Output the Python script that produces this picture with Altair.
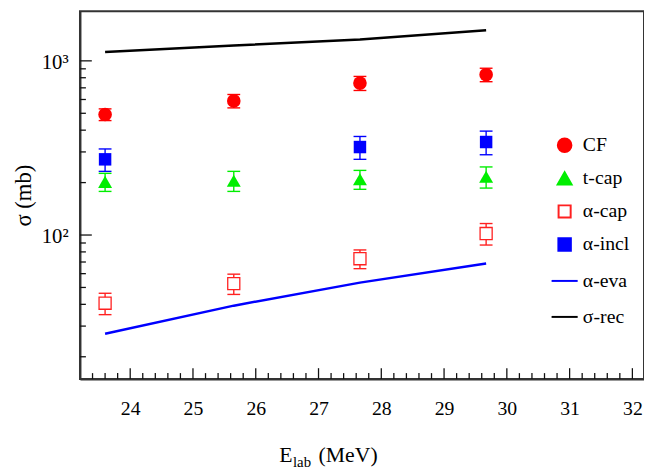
import altair as alt
import pandas as pd

# ---------------- data ----------------
energy = [23.6, 25.65, 27.66, 29.67]
cf = [492, 589, 745, 833]
cf_err = [38, 52, 69, 74]
tcap = [202, 205, 209, 216]
tcap_err = [24, 27, 26, 30]
acap = [40.6, 52.6, 73.1, 102]
acap_err = [5.7, 7.0, 9.0, 14.4]
aincl_energy = [23.6, 27.66, 29.67]
aincl = [272, 320, 342]
aincl_err = [40, 48, 53]
aeva = [27.1, 39.3, 53.3, 68.6]
srec = [1125, 1225, 1325, 1497]

series = ["CF", "t-cap", "α-cap", "α-incl", "α-eva", "σ-rec"]
shapes = ["circle", "triangle-up", "square", "square", "stroke", "stroke"]
fills = ["#ff0000", "#00ee00", "#ffffff", "#0000ff", "transparent", "transparent"]
strokes = ["#ff0000", "#00ee00", "#ff2020", "#0000ff", "#0000ff", "#000000"]
sizes = [190, 200, 150, 160, 700, 700]

x_major = [24, 25, 26, 27, 28, 29, 30, 31, 32]
x_minor = [round(23.4 + 0.2 * i, 1) for i in range(44) if abs((23.4 + 0.2 * i) - round(23.4 + 0.2 * i)) > 0.05]
y_major = [100, 1000]
y_minor = [20, 30, 40, 50, 60, 70, 80, 90, 200, 300, 400, 500, 600, 700, 800, 900]

X_MIN, X_MAX = 23.2, 32.185
Y_MIN, Y_MAX = 14.9, 1927

W, H = 572, 373
FONT = "Liberation Serif, DejaVu Serif, serif"

# ---------------- tables ----------------
pts = []
for e, v in zip(energy, cf):
    pts.append({"E": e, "v": v, "s": "CF"})
for e, v in zip(energy, tcap):
    pts.append({"E": e, "v": v, "s": "t-cap"})
for e, v in zip(energy, acap):
    pts.append({"E": e, "v": v, "s": "α-cap"})
for e, v in zip(aincl_energy, aincl):
    pts.append({"E": e, "v": v, "s": "α-incl"})
pts = pd.DataFrame(pts)

lines = []
for e, v in zip(energy, aeva):
    lines.append({"E": e, "v": v, "s": "α-eva"})
for e, v in zip(energy, srec):
    lines.append({"E": e, "v": v, "s": "σ-rec"})
lines = pd.DataFrame(lines)

errs = []
for col, ens, vals, es in [("#ff0000", energy, cf, cf_err), ("#00ee00", energy, tcap, tcap_err),
                           ("#ff2020", energy, acap, acap_err), ("#0000ff", aincl_energy, aincl, aincl_err)]:
    for e, v, d in zip(ens, vals, es):
        errs.append({"E": e, "lo": v - d, "hi": v + d, "col": col})
errs = pd.DataFrame(errs)

xs = alt.Scale(domain=[X_MIN, X_MAX], nice=False, zero=False)
ys = alt.Scale(type="log", domain=[Y_MIN, Y_MAX], nice=False)

xaxis = alt.Axis(values=x_major, ticks=False, grid=False, domain=True, domainColor="#333",
                 domainWidth=2, labelFont=FONT, labelFontSize=20, labelColor="black",
                 labelPadding=20, title=None)
yaxis = alt.Axis(values=y_major, ticks=False, grid=False, domain=True, domainColor="#333",
                 domainWidth=2, labelFont=FONT, labelFontSize=21, labelColor="black",
                 labelPadding=12, labelBaseline="middle", labelOffset=2,
                 labelExpr="datum.value == 100 ? '10²' : '10³'",
                 title="σ (mb)", titleFont=FONT, titleFontSize=23, titleFontWeight="normal",
                 titleColor="black", titlePadding=6)

X = alt.X("E:Q", scale=xs, axis=xaxis)
Y = alt.Y("v:Q", scale=ys, axis=yaxis)

leg = alt.Legend(orient="none", legendX=477, legendY=126, title=None, labelFont=FONT,
                 labelFontSize=20, labelColor="black", labelOffset=4, rowPadding=11.5,
                 symbolOpacity=1, symbolStrokeWidth=2)

S = dict(
    shape=alt.Shape("s:N", scale=alt.Scale(domain=series, range=shapes), legend=leg),
    fill=alt.Fill("s:N", scale=alt.Scale(domain=series, range=fills), legend=leg),
    stroke=alt.Stroke("s:N", scale=alt.Scale(domain=series, range=strokes), legend=leg),
    size=alt.Size("s:N", scale=alt.Scale(type="ordinal", domain=series, range=sizes), legend=leg),
)

line_layer = alt.Chart(lines).mark_line(strokeWidth=2.5).encode(
    x=X, y=Y, stroke=S["stroke"], detail="s:N")

err_rule = alt.Chart(errs).mark_rule(strokeWidth=1.4).encode(
    x=X, y=alt.Y("lo:Q", scale=ys, axis=yaxis), y2="hi:Q",
    color=alt.Color("col:N", scale=None))
cap_lo = alt.Chart(errs).mark_tick(orient="horizontal", size=13, thickness=1.4, opacity=1).encode(
    x=X, y=alt.Y("lo:Q", scale=ys, axis=yaxis), color=alt.Color("col:N", scale=None))
cap_hi = alt.Chart(errs).mark_tick(orient="horizontal", size=13, thickness=1.4, opacity=1).encode(
    x=X, y=alt.Y("hi:Q", scale=ys, axis=yaxis), color=alt.Color("col:N", scale=None))

filled_pts = alt.Chart(pts).transform_filter("datum.s != 'α-cap'").mark_point(
    opacity=1, strokeWidth=0).encode(
    x=X, y=Y, shape=S["shape"], fill=S["fill"], stroke=S["stroke"], size=S["size"])
open_pts = alt.Chart(pts).transform_filter("datum.s == 'α-cap'").mark_point(
    opacity=1, strokeWidth=1.3).encode(
    x=X, y=Y, shape=S["shape"], fill=S["fill"], stroke=S["stroke"], size=S["size"])

# inward axis ticks: tick marks sitting on the frame (left edge / bottom edge)
ytm_df = pd.DataFrame({"v": y_major, "E": X_MIN})
ytn_df = pd.DataFrame({"v": y_minor, "E": X_MIN})
xtm_df = pd.DataFrame({"E": x_major, "v": Y_MIN})
xtn_df = pd.DataFrame({"E": x_minor, "v": Y_MIN})
ytm = alt.Chart(ytm_df).mark_tick(orient="horizontal", size=12, thickness=1.3,
                                  color="#111", opacity=1, xOffset=6).encode(x=X, y=Y)
ytn = alt.Chart(ytn_df).mark_tick(orient="horizontal", size=6, thickness=1.3,
                                  color="#111", opacity=1, xOffset=3).encode(x=X, y=Y)
xtm = alt.Chart(xtm_df).mark_tick(orient="vertical", size=11, thickness=1.3,
                                  color="#111", opacity=1, yOffset=-5.5).encode(x=X, y=Y)
xtn = alt.Chart(xtn_df).mark_tick(orient="vertical", size=6, thickness=1.3,
                                  color="#111", opacity=1, yOffset=-3).encode(x=X, y=Y)

# x title with subscript
t1 = alt.Chart(pd.DataFrame({"t": ["E"]})).mark_text(
    font=FONT, fontSize=22, align="left", baseline="alphabetic", color="black").encode(
    text="t:N", x=alt.value(202), y=alt.value(457))
t2 = alt.Chart(pd.DataFrame({"t": ["lab"]})).mark_text(
    font=FONT, fontSize=15, align="left", baseline="alphabetic", color="black").encode(
    text="t:N", x=alt.value(216), y=alt.value(462))
t3 = alt.Chart(pd.DataFrame({"t": ["(MeV)"]})).mark_text(
    font=FONT, fontSize=22, align="left", baseline="alphabetic", color="black").encode(
    text="t:N", x=alt.value(242), y=alt.value(457))

chart = alt.layer(
    line_layer, err_rule, cap_lo, cap_hi, filled_pts, open_pts, ytm, ytn, xtm, xtn, t1, t2, t3
).properties(
    width=W, height=H,
    background="white",
    autosize=alt.AutoSizeParams(type="none"),
    padding={"left": 73, "top": 0, "right": 0, "bottom": 91},
).configure_view(stroke="#333", strokeWidth=2)

chart.save("out.html", embed_options={"renderer": "svg", "actions": False})
